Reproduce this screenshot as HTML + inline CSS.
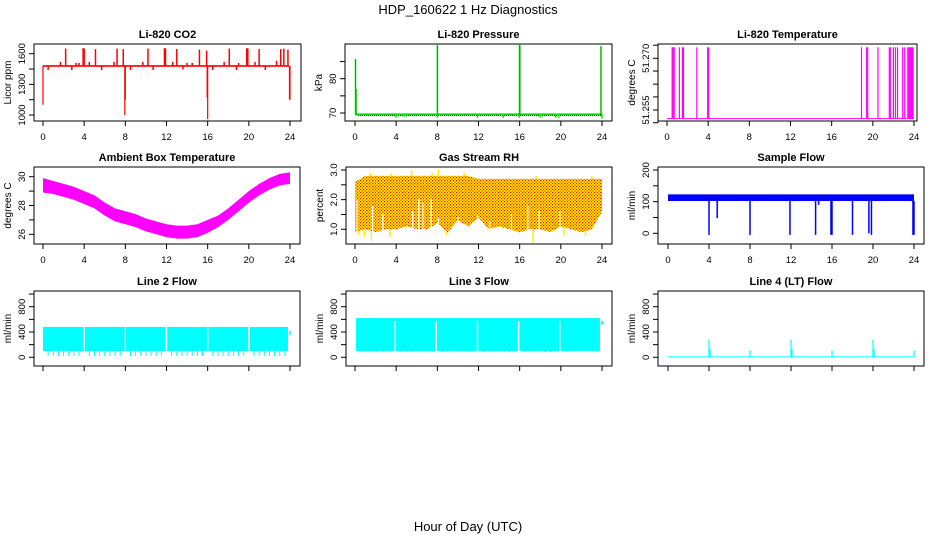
<!DOCTYPE html>
<html><head><meta charset="utf-8"><style>
html,body{margin:0;padding:0;background:#fff;}
svg{display:block;font-family:"Liberation Sans",Arial,sans-serif;}
</style></head><body>
<svg id="chart" width="936" height="540" viewBox="0 0 936 540" xmlns="http://www.w3.org/2000/svg">
<defs>
<pattern id="rhdots" width="3" height="3" patternUnits="userSpaceOnUse">
<rect width="3" height="3" fill="#ffff00"/><rect x="0" y="0" width="1.2" height="1.2" fill="#ff0000"/><rect x="1.5" y="1.5" width="1.2" height="1.2" fill="#ff0000"/>
</pattern>
</defs>
<text x="468" y="14" font-size="13" text-anchor="middle">HDP_160622  1 Hz Diagnostics</text>
<text x="468" y="531" font-size="13" text-anchor="middle">Hour of Day (UTC)</text>
</svg>
<script>
// ---- data ----
const xTicks = [0,4,8,12,16,20,24];
// CO2
const co2Base = 1480;
const co2UpSpikes = [[2.2,1650],[3.9,1655],[4.0,1650],[5.1,1645],[7.2,1650],[7.8,1645],[10.2,1650],[11.8,1655],[11.9,1650],[13.0,1645],[15.2,1640],[15.9,1630],[18.1,1650],[19.8,1655],[19.9,1650],[21.0,1645],[23.1,1645],[23.4,1650],[23.8,1640]];
const co2SmallSpikes = [[1.7,1520],[3.2,1510],[3.5,1510],[4.5,1520],[6.9,1520],[9.7,1520],[12.6,1520],[14.0,1510],[14.5,1510],[17.6,1520],[19.0,1510],[20.6,1520],[22.7,1530],[0.5,1440],[2.8,1440],[5.7,1440],[8.5,1440],[10.7,1440],[13.6,1445],[16.5,1440],[18.8,1440],[21.6,1440]];
const co2Dips = [[0.0,1100],[7.95,1000],[8.0,1150],[15.95,1170],[16.0,960],[23.95,1150],[24.0,1150]];
// Pressure
const presBase = 69.6;
const presSpikes = [[0.05,85.7],[0.1,77],[8.0,89.8],[15.98,89.8],[16.02,89.8],[23.9,89.5]];
const presDips = [[4.0,68.6],[4.8,68.8],[8.0,68.6],[11.9,68.6],[14.4,68.6],[15.95,68.6],[18.0,68.6],[19.5,68.6],[19.8,68.6],[24.0,68.4]];
// Temperature
const tempLow = 51.2525, tempHigh = 51.2732;
const tempJumps = [0.5,0.6,0.7,1.2,1.5,1.6,2.9,3.95,4.05,18.9,19.4,19.5,20.5,21.6,21.7,22.0,22.2,22.4,22.9,23.1,23.4,23.5,23.6,23.7,23.8,23.9];
// Ambient box temperature (hourly)
const ambHours = [0,1,2,3,4,5,6,7,8,9,10,11,12,13,14,15,16,17,18,19,20,21,22,23,24];
const ambUpper = [29.9,29.7,29.5,29.3,29.0,28.7,28.2,27.8,27.6,27.4,27.1,26.9,26.7,26.6,26.6,26.7,27.0,27.3,27.8,28.4,29.0,29.5,29.9,30.2,30.3];
const ambLower = [28.9,28.8,28.6,28.4,28.1,27.8,27.3,26.9,26.7,26.5,26.2,26.0,25.8,25.7,25.7,25.8,26.1,26.5,27.0,27.6,28.2,28.7,29.1,29.4,29.5];
// Gas stream RH (hourly)
const rhUpper = [2.6,2.8,2.8,2.8,2.8,2.8,2.8,2.8,2.8,2.8,2.8,2.8,2.7,2.7,2.7,2.7,2.7,2.7,2.7,2.7,2.7,2.7,2.7,2.7,2.7];
const rhLower = [0.9,1.0,0.9,1.0,1.0,1.1,1.0,1.0,1.2,0.9,1.3,1.1,1.4,1.0,1.1,1.0,0.9,1.0,1.0,0.9,1.1,1.0,0.9,1.0,1.6];
const rhLowSpikes = [[0.3,0.8],[0.9,0.75],[1.6,0.6],[3.4,0.75],[8.9,0.8],[17.3,0.55],[20.3,0.8],[22.4,0.8]];
const rhHighSpikes = [[5.5,3.0],[8.1,3.0],[7.5,2.9],[10.6,2.9],[3.5,2.9],[1.5,2.9],[17.6,2.8],[23.0,2.8]];
const rhGaps = [[0.2,2.0],[1.7,1.8],[2.7,1.5],[5.6,1.6],[6.2,2.0],[6.6,1.9],[7.4,2.0],[8.1,1.4],[10.0,1.4],[11.9,1.5],[13.1,1.3],[15.2,1.5],[16.8,1.8],[17.9,1.6],[19.9,1.6]];
// Sample flow
const sfUpper = 123, sfLower = 102;
const sfDips = [[4.0,-5],[4.8,48],[8.0,-5],[11.9,-5],[14.4,-5],[14.7,90],[15.9,-5],[16.0,-5],[18.0,-5],[19.6,0],[19.85,-5],[23.9,-5],[24.0,-5]];
// Line 2 flow
const l2Upper = 480, l2Lower = 100, l2DipValue = 20;
const l2Gaps = [4,8,12,16,20];
const l2Dips = [0.5,1,1.5,2,2.5,3,3.5,4.5,5,5.5,6,6.5,7,7.5,8.5,9,9.5,10,10.5,11,11.5,12.5,13,13.5,14,14.5,15,15.5,16.5,17,17.5,18,18.5,19,19.5,20.5,21,21.5,22,22.5,23,23.5];
// Line 3 flow
const l3Upper = 620, l3Lower = 100, l3DipValue = 80;
const l3Gaps = [3.9,7.9,11.9,15.9,19.9];
const l3Dips = [0.7,1.2,1.7,2.2,2.7,3.2,4.5,5,5.5,6,6.5,7,7.5,8.5,9,9.5,10,10.5,11,11.5,12.5,13,13.5,14,14.5,15,15.5,16.5,17,17.5,18,18.5,19,19.5,20.5];
// Line 4 flow
const l4Base = 15;
const l4Spikes = [[4.0,280],[4.1,130],[8.0,110],[12.0,280],[12.1,130],[16.0,110],[20.0,280],[20.1,130],[24.0,110]];

// ---- drawing ----
const svg = document.getElementById('chart');
const NS = 'http://www.w3.org/2000/svg';
function mk(tag, attrs, parent){
  const e = document.createElementNS(NS, tag);
  for (const k in attrs) e.setAttribute(k, attrs[k]);
  (parent||svg).appendChild(e); return e;
}
function panel(c){
  const g = mk('g', {});
  
  
  const x = h => c.x0 + (h/24)*(c.x24 - c.x0);
  const y = v => c.ya + (v - c.va)*(c.yb - c.ya)/(c.vb - c.va);
  const box = mk('rect', {x:c.bx0, y:c.by0, width:c.bx1-c.bx0, height:c.by1-c.by0, fill:'none', stroke:'#000', 'stroke-width':1}, g);
  
  
  const t = mk('text', {x:(c.bx0+c.bx1)/2, y:c.by0-6, 'font-size':11, 'font-weight':'bold', 'text-anchor':'middle'}, g);
  t.textContent = c.title;
  
  
  const xa = mk('g', {}, g);
  
  
  mk('line', {x1:x(xTicks[0]), x2:x(xTicks[xTicks.length-1]), y1:c.by1, y2:c.by1, stroke:'#000'}, xa);
  xTicks.forEach(v => {
    mk('line', {x1:x(v), x2:x(v), y1:c.by1, y2:c.by1+5, stroke:'#000'}, xa);
    if (c.xlabels){
      const tl = mk('text', {x:x(v), y:c.by1+19, 'font-size':9.5, 'text-anchor':'middle'}, xa);
      tl.textContent = v;
    }
  });
  const ya = mk('g', {}, g);
  
  
  mk('line', {x1:c.bx0, x2:c.bx0, y1:y(c.yticks[0]), y2:y(c.yticks[c.yticks.length-1]), stroke:'#000'}, ya);
  c.yticks.forEach(v => mk('line', {x1:c.bx0-5, x2:c.bx0, y1:y(v), y2:y(v), stroke:'#000'}, ya));
  c.ylabels.forEach(l => {
    const tl = mk('text', {transform:`translate(${c.bx0-9},${y(l[0])}) rotate(-90)`, 'font-size':9.5, 'text-anchor':'middle'}, ya);
    tl.textContent = l[1];
  });
  const yt = mk('text', {transform:`translate(${c.bx0-23},${(c.by0+c.by1)/2}) rotate(-90)`, 'font-size':10, 'text-anchor':'middle'}, g);
  yt.textContent = c.ylab;
  
  
  const s = mk('g', {}, g);
  
  
  return {x, y, g:s};
}
function vline(p, h, v1, v2, col, w){ return mk('line', {x1:p.x(h), x2:p.x(h), y1:p.y(v1), y2:p.y(v2), stroke:col, 'stroke-width':w||1}, p.g); }
function band(p, hours, up, lo, fill){
  let pts = hours.map((h,i)=>p.x(h)+','+p.y(up[i]));
  pts = pts.concat(hours.map((h,i)=>p.x(h)+','+p.y(lo[i])).reverse());
  return mk('polygon', {points:pts.join(' '), fill:fill, stroke:'none'}, p.g);
}
function rectBand(p, h0, h1, v0, v1, fill){
  return mk('rect', {x:p.x(h0), y:p.y(v1), width:p.x(h1)-p.x(h0), height:p.y(v0)-p.y(v1), fill:fill}, p.g);
}

const c1 = {x0:43,x24:290,bx0:34,bx1:301}, c2 = {x0:355,x24:602,bx0:345,bx1:612}, c3 = {x0:667,x24:914,bx0:658,bx1:917};
const r1 = {by0:44,by1:121}, r2 = {by0:167,by1:244}, r3 = {by0:291,by1:366};

let p = panel(Object.assign({name:'panel-co2', title:'Li-820 CO2', ylab:'Licor ppm', xlabels:true, va:1000, ya:115, vb:1600, yb:53.7,
  yticks:[1000,1150,1300,1450,1600], ylabels:[[1000,'1000'],[1300,'1300'],[1600,'1600']]}, c1, r1));
rectBand(p, 0, 23.9, co2Base-8, co2Base+8, '#ff0000');
co2UpSpikes.concat(co2SmallSpikes).forEach(d => vline(p, d[0], co2Base, d[1], '#ff0000', 1.5));
co2Dips.forEach(d => vline(p, d[0], co2Base, d[1], '#ff0000', 1.2));

p = panel(Object.assign({name:'panel-pressure', title:'Li-820 Pressure', ylab:'kPa', xlabels:true, va:70, ya:113, vb:80, yb:78.7,
  yticks:[70,75,80,85], ylabels:[[70,'70'],[80,'80']]}, c2, r1));
rectBand(p, 0, 24, presBase-0.3, presBase+0.3, '#00ee00');
mk('line', {x1:p.x(0.3), x2:p.x(24), y1:p.y(presBase-0.3), y2:p.y(presBase-0.3), stroke:'#000', 'stroke-dasharray':'1,1'}, p.g);
presSpikes.forEach(d => { vline(p, d[0], presBase, d[1], '#00ee00', 1.5); mk('line',{x1:p.x(d[0]),x2:p.x(d[0]),y1:p.y(presBase),y2:p.y(d[1]),stroke:'#000','stroke-dasharray':'1,1','stroke-width':0.6}, p.g); });
presDips.forEach(d => vline(p, d[0], presBase, d[1], '#00ee00', 1.5));

p = panel(Object.assign({name:'panel-li820-temperature', title:'Li-820 Temperature', ylab:'degrees C', xlabels:true, va:51.255, ya:110, vb:51.270, yb:58.3,
  yticks:[51.2513,51.255,51.2588,51.2625,51.2663,51.270,51.2738], ylabels:[[51.255,'51.255'],[51.270,'51.270']]}, c3, r1));
mk('line', {x1:p.x(0), x2:p.x(24), y1:p.y(tempLow), y2:p.y(tempLow), stroke:'#ff00ff'}, p.g);
tempJumps.forEach(h => vline(p, h, tempLow, tempHigh, '#ff00ff', 1.2));

p = panel(Object.assign({name:'panel-ambient-temperature', title:'Ambient Box Temperature', ylab:'degrees C', xlabels:true, va:26, ya:234.3, vb:30, yb:176.7,
  yticks:[26,27,28,29,30], ylabels:[[26,'26'],[28,'28'],[30,'30']]}, {x0:43,x24:290,bx0:34,bx1:300}, r2));
band(p, ambHours, ambUpper, ambLower, '#ff00ff');

p = panel(Object.assign({name:'panel-rh', title:'Gas Stream RH', ylab:'percent', xlabels:true, va:1, ya:229.3, vb:3, yb:170,
  yticks:[1,1.5,2,2.5,3], ylabels:[[1,'1.0'],[2,'2.0'],[3,'3.0']]}, {x0:355,x24:602,bx0:346,bx1:612}, r2));
rhLowSpikes.concat(rhHighSpikes).forEach(d => vline(p, d[0], 2, d[1], '#ffee00', 1.5));
band(p, ambHours, rhUpper, rhLower, 'url(#rhdots)');
rhGaps.forEach(d => vline(p, d[0], 0.6, d[1], '#ffffff', 1.2));

p = panel(Object.assign({name:'panel-sample-flow', title:'Sample Flow', ylab:'ml/min', xlabels:true, va:0, ya:233.3, vb:200, yb:170,
  yticks:[0,50,100,150,200], ylabels:[[0,'0'],[100,'100'],[200,'200']]}, {x0:668,x24:914,bx0:658,bx1:924}, r2));
rectBand(p, 0, 24, sfLower, sfUpper, '#0000ff');
sfDips.forEach(d => vline(p, d[0], sfLower, d[1], '#0000ff', 1.5));

const flowY = {va:0, ya:357.3, vb:800, yb:306.7, yticks:[0,200,400,600,800,1000], ylabels:[[0,'0'],[400,'400'],[800,'800']], xlabels:false, ylab:'ml/min'};
p = panel(Object.assign({name:'panel-line2-flow', title:'Line 2 Flow'}, flowY, {x0:43,x24:290,bx0:34,bx1:300}, r3));
rectBand(p, 0, 23.8, l2Lower, l2Upper, '#00ffff');
l2Dips.forEach(h => vline(p, h, l2Lower, l2DipValue, '#00ffff', 1));
l2Gaps.forEach(h => vline(p, h, l2Lower+10, l2Upper, '#ffffff', 1.5));
vline(p, 24, 350, 420, '#00ffff', 1.5);

p = panel(Object.assign({name:'panel-line3-flow', title:'Line 3 Flow'}, flowY, {x0:355,x24:602,bx0:346,bx1:612}, r3));
rectBand(p, 0.1, 23.8, l3Lower, l3Upper, '#00ffff');
l3Dips.forEach(h => vline(p, h, l3Lower, l3DipValue, '#00ffff', 1));
l3Gaps.forEach(h => vline(p, h, l3Lower, 570, '#ffffff', 1.5));
vline(p, 24, 520, 570, '#00ffff', 2);

p = panel(Object.assign({name:'panel-line4-flow', title:'Line 4 (LT) Flow'}, flowY, {x0:668,x24:914,bx0:658,bx1:924}, r3));
rectBand(p, 0, 24, 0, l4Base, '#00ffff');
l4Spikes.forEach(d => vline(p, d[0], 0, d[1], '#00ffff', 1.2));
</script>
</body></html>
